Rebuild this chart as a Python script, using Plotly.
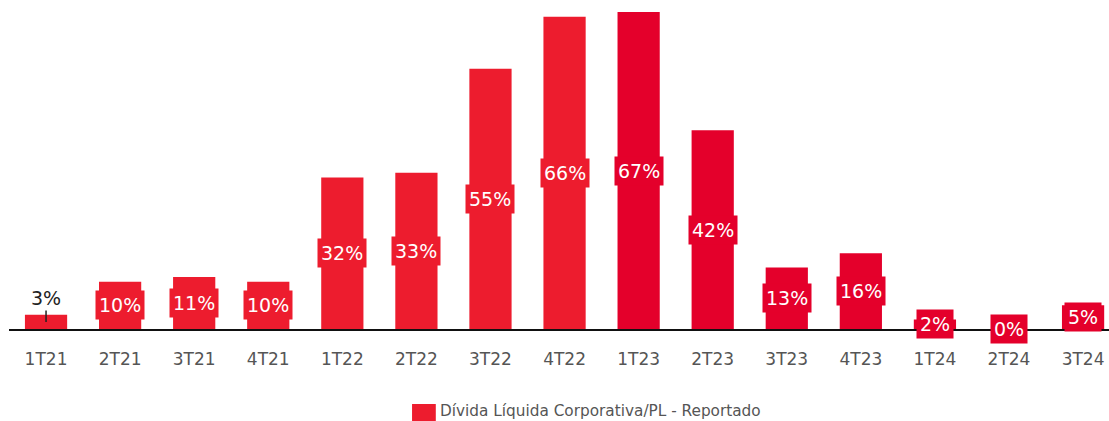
import plotly.graph_objects as go

categories = ["1T21", "2T21", "3T21", "4T21", "1T22", "2T22", "3T22", "4T22",
              "1T23", "2T23", "3T23", "4T23", "1T24", "2T24", "3T24"]
values = [3, 10, 11, 10, 32, 33, 55, 66, 67, 42, 13, 16, 2, 0, 5]
labels = ["3%", "10%", "11%", "10%", "32%", "33%", "55%", "66%",
          "67%", "42%", "13%", "16%", "2%", "0%", "5%"]
series_name = "Dívida Líquida Corporativa/PL - Reportado"

RED1 = "#ED1C2E"
RED2 = "#E4002B"
colors = [RED1] * 8 + [RED2] * 7
FONT = "DejaVu Sans"

fig = go.Figure()
fig.add_trace(go.Bar(
    x=categories, y=values, marker=dict(color=colors, line=dict(width=0)),
    width=0.57, showlegend=False, hoverinfo="skip",
))

annotations = []
for i, (c, v, t) in enumerate(zip(categories, values, labels)):
    if i == 0:
        annotations.append(dict(
            x=c, y=v / 2, xref="x", yref="y", text=t, showarrow=True,
            arrowhead=0, arrowwidth=1.5, arrowcolor="#222", ax=0, ay=-24,
            font=dict(family=FONT, size=19, color="#222"),
        ))
    else:
        annotations.append(dict(
            x=c, y=v / 2, xref="x", yref="y", text=t, showarrow=False,
            bgcolor=colors[i], borderpad=3,
            font=dict(family=FONT, size=19, color="white"),
        ))

# legend drawn manually
annotations.append(dict(
    x=0.390, y=-0.250, xref="paper", yref="paper", text=series_name,
    showarrow=False, xanchor="left", yanchor="middle",
    font=dict(family=FONT, size=15.3, color="#555"),
))

fig.update_layout(
    width=1109, height=421,
    margin=dict(l=9, r=0, t=0, b=92),
    paper_bgcolor="white", plot_bgcolor="white",
    annotations=annotations,
    shapes=[dict(type="rect", xref="paper", yref="paper",
                 x0=0.3664, x1=0.388, y0=-0.228, y1=-0.30,
                 fillcolor=RED1, line=dict(width=0))],
    xaxis=dict(
        range=[-0.5, 14.35], showline=True, linecolor="#111", linewidth=1.5,
        ticks="", showgrid=False, ticklabelstandoff=14,
        tickfont=dict(family=FONT, size=17, color="#555"),
    ),
    yaxis=dict(range=[0, 69.54], visible=False, showgrid=False, zeroline=False),
    bargap=0.43,
)

fig.write_html("out.html")
